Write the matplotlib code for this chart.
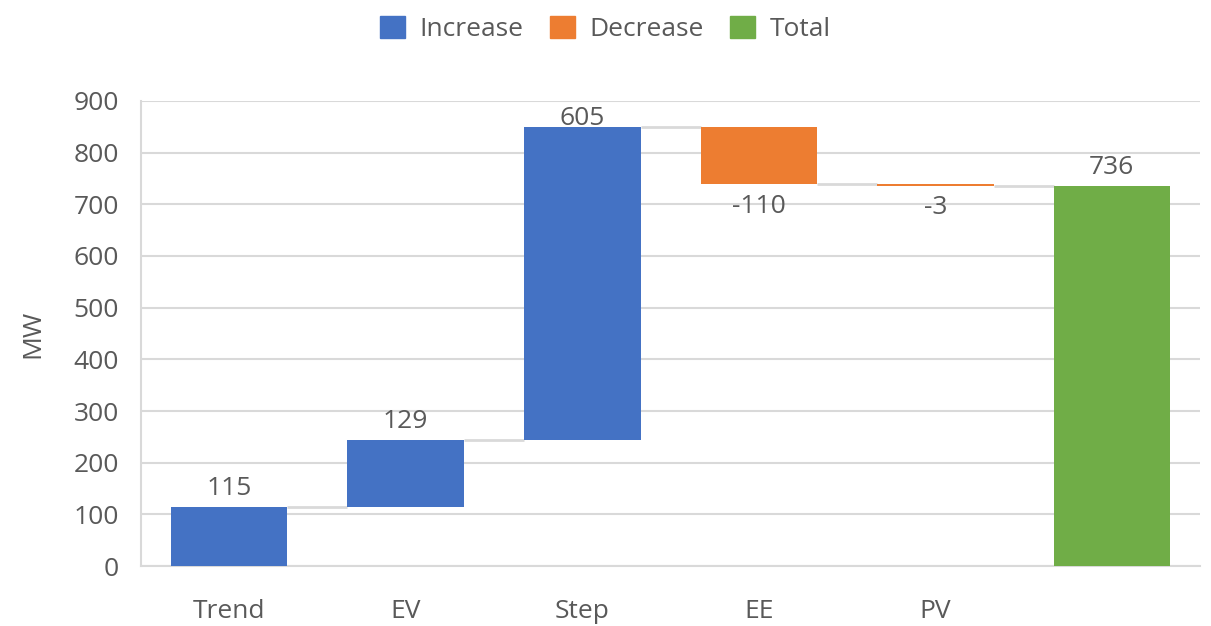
import matplotlib
matplotlib.use("Agg")
import matplotlib.pyplot as plt
from matplotlib.patches import Patch
import numpy as np

# Waterfall data (MW)
categories = ["Trend", "EV", "Step", "EE", "PV", ""]
changes = [115, 129, 605, -110, -3]
total = 736

# Styling
c_inc = "#4472C4"
c_dec = "#ED7D31"
c_tot = "#70AD47"
c_text = "#595959"
c_grid = "#D9D9D9"

plt.rcParams["font.family"] = ["Open Sans", "DejaVu Sans"]
plt.rcParams["text.color"] = c_text

fig = plt.figure(figsize=(12.11, 6.26), dpi=100)
ax = fig.add_axes([0.1164, 0.0958, 0.8746, 0.7429])

x = np.arange(len(categories))
width = 0.66

running = np.concatenate([[0], np.cumsum(changes)])
bottoms, heights, colors, labels = [], [], [], []
for i, ch in enumerate(changes):
    start, end = running[i], running[i + 1]
    bottoms.append(min(start, end))
    heights.append(abs(ch))
    colors.append(c_inc if ch >= 0 else c_dec)
    labels.append(ch)
bottoms.append(0)
heights.append(total)
colors.append(c_tot)
labels.append(total)

ax.bar(x, heights, width=width, bottom=bottoms, color=colors, zorder=3)

# Connector lines between consecutive bars
levels = list(running[1:])
for i in range(len(categories) - 1):
    lvl = levels[i]
    ax.plot([x[i] + width / 2, x[i + 1] - width / 2], [lvl, lvl],
            color=c_grid, lw=2, zorder=2, solid_capstyle="butt")

# Value labels
label_ceiling = 867
for i, val in enumerate(labels):
    top = bottoms[i] + heights[i]
    if val >= 0:
        y = min(top + 35, label_ceiling)
    else:
        y = bottoms[i] - 43
    ax.text(x[i], y, f"{val}", ha="center", va="center", fontsize=19,
            color=c_text, zorder=4)

ax.set_xlim(-0.5, len(categories) - 0.5)
ax.set_ylim(0, 900)
ax.set_yticks(np.arange(0, 901, 100))
ax.set_xticks(x)
ax.set_xticklabels(categories)
ax.tick_params(axis="both", length=0, labelsize=19, colors=c_text)
ax.tick_params(axis="x", pad=24)
ax.tick_params(axis="y", pad=16)
ax.yaxis.grid(True, color=c_grid, lw=1.5, zorder=0)
ax.set_axisbelow(True)
for side in ["top", "right"]:
    ax.spines[side].set_visible(False)
for side in ["left", "bottom"]:
    ax.spines[side].set_color(c_grid)
    ax.spines[side].set_linewidth(1.5)

ax.set_ylabel("MW", fontsize=19, color=c_text, labelpad=20)

handles = [Patch(color=c_inc, label="Increase"),
           Patch(color=c_dec, label="Decrease"),
           Patch(color=c_tot, label="Total")]
fig.legend(handles=handles, loc="upper center", bbox_to_anchor=(0.5, 1.013),
           ncol=3, frameon=False, fontsize=19, handlelength=0.95,
           handleheight=0.9, handletextpad=0.55, columnspacing=1.0)

fig.savefig("out.png", dpi=100, facecolor="white")
